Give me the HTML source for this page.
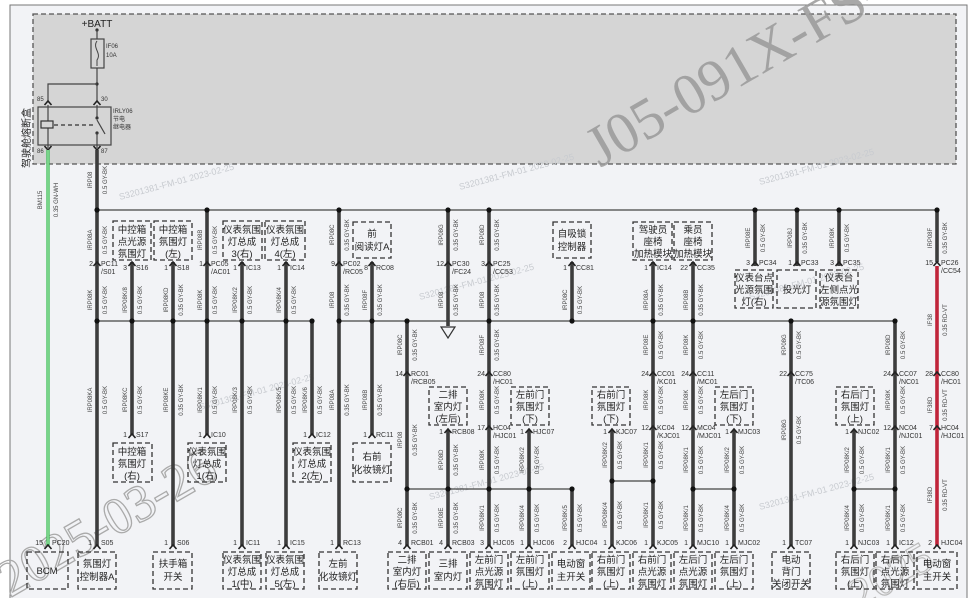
<!DOCTYPE html>
<html><head><meta charset="utf-8"><style>
html,body{margin:0;padding:0;background:#fff}
svg{display:block}
.w{stroke:#3d3d3d;stroke-width:3.6;fill:none}
.r{stroke:#c0243a;stroke-width:3.6;fill:none}
.g{stroke:#2fb84a;stroke-width:3.2;fill:none}
.t{stroke:#444;stroke-width:1.2;fill:none}
.bx{fill:none;stroke:#333;stroke-width:1.3;stroke-dasharray:5 3}
.bt{font-family:"Liberation Sans","Noto Sans CJK SC",sans-serif;font-size:9.5px;fill:#222;text-anchor:middle}
.lb{font-family:"Liberation Sans",sans-serif;font-size:6px;fill:#444;text-anchor:middle}
.pn{font-family:"Liberation Sans",sans-serif;font-size:7px;fill:#333}
.pr{text-anchor:end}
</style></head><body>
<svg width="974" height="598" viewBox="0 0 974 598" xmlns="http://www.w3.org/2000/svg">
<defs>
<g id="pin"><path d="M-3.5 4 L0 0 L3.5 4" stroke="#222" stroke-width="1.6" fill="none"/></g>
</defs>
<rect x="10" y="5" width="957" height="600" fill="#f2f3f6" stroke="#777" stroke-width="1"/>
<rect x="33" y="14" width="923" height="150" fill="#d5d5d5" stroke="#555" stroke-width="1.3" stroke-dasharray="5 3"/>

<!-- watermarks -->
<text x="600" y="168" transform="rotate(-30 600 168)" font-family="Liberation Serif,serif" font-size="58" fill="#9a9a9a" opacity="0.85">J05-091X-FS-01</text>
<text x="10" y="598" transform="rotate(-30 10 598)" font-family="Liberation Serif,serif" font-size="52" fill="none" stroke="#aaa" stroke-width="1.3">2025-03-26</text>
<text x="860" y="610" transform="rotate(-30 860 610)" font-family="Liberation Serif,serif" font-size="44" fill="none" stroke="#bbb" stroke-width="1.2">2025</text>
<g font-family="Liberation Sans,sans-serif" font-size="9" fill="#c8cbd0">
<text x="120" y="200" transform="rotate(-15 120 200)">S3201381-FM-01 2023-02-25</text>
<text x="460" y="190" transform="rotate(-15 460 190)">S3201381-FM-01 2023-02-25</text>
<text x="760" y="185" transform="rotate(-15 760 185)">S3201381-FM-01 2023-02-25</text>
<text x="420" y="300" transform="rotate(-15 420 300)">S3201381-FM-01 2023-02-25</text>
<text x="750" y="300" transform="rotate(-15 750 300)">S3201381-FM-01 2023-02-25</text>
<text x="200" y="410" transform="rotate(-15 200 410)">S3201381-FM-01 2023-02-25</text>
<text x="430" y="500" transform="rotate(-15 430 500)">S3201381-FM-01 2023-02-25</text>
<text x="760" y="510" transform="rotate(-15 760 510)">S3201381-FM-01 2023-02-25</text>
</g>

<!-- fuse box internals -->
<text x="97" y="27" class="bt" style="font-size:10px">+BATT</text>
<circle cx="97" cy="30" r="1.6" fill="#333"/>
<line class="t" x1="97" y1="30" x2="97" y2="39"/>
<rect x="91" y="39" width="13" height="29" fill="none" stroke="#444" stroke-width="1.2"/>
<path d="M97 41 C92 48,102 53,97 60 L97 66" stroke="#444" stroke-width="1" fill="none"/>
<text x="106" y="48" class="pn" style="font-size:6px">IF06</text>
<text x="106" y="57" class="pn" style="font-size:6px">10A</text>
<line class="t" x1="97" y1="68" x2="97" y2="102"/>
<circle cx="97" cy="84" r="1.6" fill="#333"/>
<polyline class="t" points="97,84 48,84 48,102"/>
<text x="37" y="101" class="pn" style="font-size:6px">85</text>
<text x="101" y="101" class="pn" style="font-size:6px">30</text>
<use href="#pin" x="48" y="101"/><use href="#pin" x="97" y="101"/>
<rect x="38" y="107" width="73" height="38" fill="none" stroke="#444" stroke-width="1.2"/>
<line class="t" x1="48" y1="105" x2="48" y2="148"/>
<rect x="41" y="121" width="12" height="7" fill="#d5d5d5" stroke="#333" stroke-width="1.2"/>
<line x1="54" y1="125" x2="93" y2="125" stroke="#333" stroke-width="1.2" stroke-dasharray="4 3"/>
<line class="t" x1="97" y1="105" x2="97" y2="118"/>
<circle cx="97" cy="118" r="1.6" fill="#333"/><circle cx="97" cy="133" r="1.6" fill="#333"/>
<line class="t" x1="97" y1="120" x2="105" y2="134"/>
<line class="t" x1="97" y1="133" x2="97" y2="148"/>
<text x="113" y="113" class="pn" style="font-size:6px">IRLY06</text>
<text x="113" y="121" class="pn" style="font-size:6px">节电</text>
<text x="113" y="129" class="pn" style="font-size:6px">继电器</text>
<text x="37" y="153" class="pn" style="font-size:6px">86</text>
<text x="101" y="153" class="pn" style="font-size:6px">87</text>
<path d="M44.5 146 L48 150 L51.5 146 M93.5 146 L97 150 L100.5 146" stroke="#222" stroke-width="1.6" fill="none"/>
<text x="30" y="138" transform="rotate(-90 30 138)" class="bt" style="font-size:10px">驾驶舱熔断盒</text>

<!-- green wire -->
<line class="g" x1="48" y1="150" x2="48" y2="546"/>
<line x1="48" y1="150" x2="48" y2="546" stroke="#e8ffe8" stroke-width="0.8"/>
<text x="42" y="200" transform="rotate(-90 42 200)" class="lb">BM115</text>
<text x="58" y="200" transform="rotate(-90 58 200)" class="lb">0.35 GN-WH</text>

<!-- buses -->
<line class="t" x1="97" y1="210" x2="937" y2="210"/>
<line class="t" x1="97" y1="321" x2="312" y2="321"/>
<line class="t" x1="339" y1="321" x2="895" y2="321"/>
<line class="t" x1="407" y1="489" x2="572" y2="489"/>
<line class="t" x1="612" y1="481" x2="653" y2="481"/>
<line class="t" x1="693" y1="489" x2="734" y2="489"/>
<line class="t" x1="854" y1="489" x2="895" y2="489"/>

<!-- wires -->
<g class="w">
<line x1="97" y1="150" x2="97" y2="546"/>
<line x1="132" y1="262" x2="132" y2="435"/>
<line x1="173" y1="262" x2="173" y2="546"/>
<line x1="207" y1="210" x2="207" y2="435"/>
<line x1="242" y1="262" x2="242" y2="546"/>
<line x1="286" y1="262" x2="286" y2="546"/>
<line x1="312" y1="321" x2="312" y2="435"/>
<line x1="339" y1="210" x2="339" y2="546"/>
<line x1="372" y1="262" x2="372" y2="435"/>
<line x1="407" y1="321" x2="407" y2="546"/>
<line x1="448" y1="210" x2="448" y2="326"/>
<line x1="448" y1="430" x2="448" y2="546"/>
<line x1="489" y1="210" x2="489" y2="546"/>
<line x1="529" y1="430" x2="529" y2="546"/>
<line x1="572" y1="262" x2="572" y2="321"/>
<line x1="572" y1="489" x2="572" y2="546"/>
<line x1="612" y1="430" x2="612" y2="546"/>
<line x1="653" y1="262" x2="653" y2="546"/>
<line x1="693" y1="262" x2="693" y2="546"/>
<line x1="734" y1="430" x2="734" y2="546"/>
<line x1="755" y1="210" x2="755" y2="266"/>
<line x1="797" y1="210" x2="797" y2="266"/>
<line x1="839" y1="210" x2="839" y2="266"/>
<line x1="791" y1="321" x2="791" y2="546"/>
<line x1="854" y1="430" x2="854" y2="546"/>
<line x1="895" y1="321" x2="895" y2="546"/>
<line x1="937" y1="210" x2="937" y2="262"/>
</g>
<line class="r" x1="937" y1="266" x2="937" y2="546"/>
<path d="M441 327 L455 327 L448 338 Z" fill="#f2f3f6" stroke="#333" stroke-width="1.2"/>

<!-- dots -->
<g fill="#111">
<circle cx="97" cy="210" r="2.6"/><circle cx="207" cy="210" r="2.6"/><circle cx="339" cy="210" r="2.6"/><circle cx="448" cy="210" r="2.6"/><circle cx="489" cy="210" r="2.6"/><circle cx="755" cy="210" r="2.6"/><circle cx="797" cy="210" r="2.6"/><circle cx="839" cy="210" r="2.6"/><circle cx="937" cy="210" r="2.6"/>
<circle cx="97" cy="321" r="2.6"/><circle cx="132" cy="321" r="2.6"/><circle cx="173" cy="321" r="2.6"/><circle cx="207" cy="321" r="2.6"/><circle cx="242" cy="321" r="2.6"/><circle cx="286" cy="321" r="2.6"/><circle cx="312" cy="321" r="2.6"/>
<circle cx="339" cy="321" r="2.6"/><circle cx="372" cy="321" r="2.6"/><circle cx="407" cy="321" r="2.6"/><circle cx="489" cy="321" r="2.6"/><circle cx="572" cy="321" r="2.6"/><circle cx="653" cy="321" r="2.6"/><circle cx="693" cy="321" r="2.6"/><circle cx="791" cy="321" r="2.6"/><circle cx="895" cy="321" r="2.6"/>
<circle cx="407" cy="489" r="2.6"/><circle cx="448" cy="489" r="2.6"/><circle cx="489" cy="489" r="2.6"/><circle cx="529" cy="489" r="2.6"/><circle cx="572" cy="489" r="2.6"/>
<circle cx="612" cy="481" r="2.6"/><circle cx="653" cy="481" r="2.6"/>
<circle cx="693" cy="489" r="2.6"/><circle cx="734" cy="489" r="2.6"/><circle cx="854" cy="489" r="2.6"/><circle cx="895" cy="489" r="2.6"/>
</g>

<!-- pins -->
<g>
<use href="#pin" x="97" y="262"/><use href="#pin" x="132" y="262"/><use href="#pin" x="173" y="262"/><use href="#pin" x="207" y="262"/><use href="#pin" x="242" y="262"/><use href="#pin" x="286" y="262"/><use href="#pin" x="339" y="262"/><use href="#pin" x="372" y="262"/><use href="#pin" x="448" y="262"/><use href="#pin" x="489" y="262"/><use href="#pin" x="572" y="262"/><use href="#pin" x="653" y="262"/><use href="#pin" x="693" y="262"/><use href="#pin" x="755" y="262"/><use href="#pin" x="797" y="262"/><use href="#pin" x="839" y="262"/><use href="#pin" x="937" y="262"/>
<use href="#pin" x="407" y="372"/><use href="#pin" x="489" y="372"/><use href="#pin" x="653" y="372"/><use href="#pin" x="693" y="372"/><use href="#pin" x="791" y="372"/><use href="#pin" x="895" y="372"/><use href="#pin" x="937" y="372"/>
<use href="#pin" x="489" y="426"/><use href="#pin" x="653" y="426"/><use href="#pin" x="693" y="426"/><use href="#pin" x="895" y="426"/><use href="#pin" x="937" y="426"/>
<use href="#pin" x="132" y="434"/><use href="#pin" x="207" y="434"/><use href="#pin" x="312" y="434"/><use href="#pin" x="372" y="434"/>
<use href="#pin" x="448" y="429"/><use href="#pin" x="529" y="429"/><use href="#pin" x="612" y="429"/><use href="#pin" x="734" y="429"/><use href="#pin" x="854" y="429"/>
<use href="#pin" x="48" y="545"/><use href="#pin" x="97" y="545"/><use href="#pin" x="173" y="545"/><use href="#pin" x="242" y="545"/><use href="#pin" x="286" y="545"/><use href="#pin" x="339" y="545"/><use href="#pin" x="407" y="545"/><use href="#pin" x="448" y="545"/><use href="#pin" x="489" y="545"/><use href="#pin" x="529" y="545"/><use href="#pin" x="572" y="545"/><use href="#pin" x="612" y="545"/><use href="#pin" x="653" y="545"/><use href="#pin" x="693" y="545"/><use href="#pin" x="734" y="545"/><use href="#pin" x="791" y="545"/><use href="#pin" x="854" y="545"/><use href="#pin" x="895" y="545"/><use href="#pin" x="937" y="545"/>
</g>

<!-- pin labels -->
<g class="pn">
<text x="101" y="266">PC11</text><text x="101" y="274">/S01</text><text x="93" y="266" class="pr">2</text>
<text x="136" y="270">S16</text><text x="127" y="270" class="pr">3</text>
<text x="177" y="270">S18</text><text x="168" y="270" class="pr">1</text>
<text x="211" y="266">PC05</text><text x="211" y="274">/AC01</text><text x="203" y="266" class="pr">1</text>
<text x="246" y="270">IC13</text><text x="237" y="270" class="pr">1</text>
<text x="290" y="270">IC14</text><text x="281" y="270" class="pr">1</text>
<text x="343" y="266">PC02</text><text x="343" y="274">/RC05</text><text x="335" y="266" class="pr">9</text>
<text x="376" y="270">RC08</text><text x="368" y="270" class="pr">8</text>
<text x="452" y="266">PC30</text><text x="452" y="274">/FC24</text><text x="444" y="266" class="pr">12</text>
<text x="493" y="266">PC25</text><text x="493" y="274">/CC53</text><text x="485" y="266" class="pr">3</text>
<text x="576" y="270">CC81</text><text x="567" y="270" class="pr">1</text>
<text x="657" y="270">IC14</text><text x="648" y="270" class="pr">1</text>
<text x="697" y="270">CC35</text><text x="688" y="270" class="pr">22</text>
<text x="759" y="265">PC34</text><text x="750" y="265" class="pr">3</text>
<text x="801" y="265">PC33</text><text x="792" y="265" class="pr">1</text>
<text x="843" y="265">PC35</text><text x="834" y="265" class="pr">3</text>
<text x="941" y="265">PC26</text><text x="941" y="273">/CC54</text><text x="933" y="265" class="pr">15</text>
<text x="411" y="376">RC01</text><text x="411" y="384">/RCB05</text><text x="403" y="376" class="pr">14</text>
<text x="493" y="376">CC80</text><text x="493" y="384">/HC01</text><text x="485" y="376" class="pr">24</text>
<text x="657" y="376">CC01</text><text x="657" y="384">/KC01</text><text x="649" y="376" class="pr">24</text>
<text x="697" y="376">CC11</text><text x="697" y="384">/MC01</text><text x="689" y="376" class="pr">24</text>
<text x="795" y="376">CC75</text><text x="795" y="384">/TC06</text><text x="787" y="376" class="pr">22</text>
<text x="899" y="376">CC07</text><text x="899" y="384">/NC01</text><text x="891" y="376" class="pr">24</text>
<text x="941" y="376">CC80</text><text x="941" y="384">/HC01</text><text x="933" y="376" class="pr">28</text>
<text x="493" y="430">HC04</text><text x="493" y="438">/HJC01</text><text x="485" y="430" class="pr">17</text>
<text x="657" y="430">KC04</text><text x="657" y="438">/KJC01</text><text x="649" y="430" class="pr">12</text>
<text x="697" y="430">MC04</text><text x="697" y="438">/MJC01</text><text x="689" y="430" class="pr">12</text>
<text x="899" y="430">NC04</text><text x="899" y="438">/NJC01</text><text x="891" y="430" class="pr">12</text>
<text x="941" y="430">HC04</text><text x="941" y="438">/HJC01</text><text x="933" y="430" class="pr">7</text>
<text x="136" y="437">S17</text><text x="127" y="437" class="pr">1</text>
<text x="211" y="437">IC10</text><text x="202" y="437" class="pr">1</text>
<text x="316" y="437">IC12</text><text x="307" y="437" class="pr">1</text>
<text x="376" y="437">RC11</text><text x="367" y="437" class="pr">1</text>
<text x="452" y="434">RCB08</text><text x="443" y="434" class="pr">1</text>
<text x="533" y="434">HJC07</text><text x="524" y="434" class="pr">1</text>
<text x="616" y="434">KJC07</text><text x="607" y="434" class="pr">1</text>
<text x="738" y="434">MJC03</text><text x="729" y="434" class="pr">1</text>
<text x="858" y="434">NJC02</text><text x="849" y="434" class="pr">1</text>
<text x="52" y="545">PC20</text><text x="43" y="545" class="pr">15</text>
<text x="101" y="545">S05</text><text x="92" y="545" class="pr">1</text>
<text x="177" y="545">S06</text><text x="168" y="545" class="pr">1</text>
<text x="246" y="545">IC11</text><text x="237" y="545" class="pr">1</text>
<text x="290" y="545">IC15</text><text x="281" y="545" class="pr">1</text>
<text x="343" y="545">RC13</text><text x="334" y="545" class="pr">1</text>
<text x="411" y="545">RCB01</text><text x="402" y="545" class="pr">4</text>
<text x="452" y="545">RCB03</text><text x="443" y="545" class="pr">4</text>
<text x="493" y="545">HJC05</text><text x="484" y="545" class="pr">3</text>
<text x="533" y="545">HJC06</text><text x="524" y="545" class="pr">1</text>
<text x="576" y="545">HJC04</text><text x="567" y="545" class="pr">2</text>
<text x="616" y="545">KJC06</text><text x="607" y="545" class="pr">1</text>
<text x="657" y="545">KJC05</text><text x="648" y="545" class="pr">1</text>
<text x="697" y="545">MJC10</text><text x="688" y="545" class="pr">1</text>
<text x="738" y="545">MJC02</text><text x="729" y="545" class="pr">1</text>
<text x="795" y="545">TC07</text><text x="786" y="545" class="pr">1</text>
<text x="858" y="545">NJC03</text><text x="849" y="545" class="pr">1</text>
<text x="899" y="545">IC12</text><text x="890" y="545" class="pr">1</text>
<text x="941" y="545">HJC04</text><text x="932" y="545" class="pr">2</text>
</g>

<!-- wire labels -->
<g class="lb">
<text transform="translate(92,180) rotate(-90)">IRP08</text><text transform="translate(107,180) rotate(-90)">0.5 GY-BK</text>
<text transform="translate(92,240) rotate(-90)">IRP08A</text><text transform="translate(107,240) rotate(-90)">0.5 GY-BK</text>
<text transform="translate(202,240) rotate(-90)">IRP08B</text><text transform="translate(217,240) rotate(-90)">0.5 GY-BK</text>
<text transform="translate(334,235) rotate(-90)">IRP08C</text><text transform="translate(349,235) rotate(-90)">0.35 GY-BK</text>
<text transform="translate(443,235) rotate(-90)">IRP08G</text><text transform="translate(458,235) rotate(-90)">0.35 GY-BK</text>
<text transform="translate(484,235) rotate(-90)">IRP08D</text><text transform="translate(499,235) rotate(-90)">0.35 GY-BK</text>
<text transform="translate(750,238) rotate(-90)">IRP08E</text><text transform="translate(765,238) rotate(-90)">0.5 GY-BK</text>
<text transform="translate(792,238) rotate(-90)">IRP08J</text><text transform="translate(807,238) rotate(-90)">0.35 GY-BK</text>
<text transform="translate(834,238) rotate(-90)">IRP08K</text><text transform="translate(849,238) rotate(-90)">0.5 GY-BK</text>
<text transform="translate(932,238) rotate(-90)">IRP08F</text><text transform="translate(947,238) rotate(-90)">0.35 GY-BK</text>
<text transform="translate(92,300) rotate(-90)">IRP08K</text><text transform="translate(107,300) rotate(-90)">0.5 GY-BK</text>
<text transform="translate(127,300) rotate(-90)">IRP08K/8</text><text transform="translate(142,300) rotate(-90)">0.5 GY-BK</text>
<text transform="translate(168,300) rotate(-90)">IRP08KD</text><text transform="translate(183,300) rotate(-90)">0.35 GY-BK</text>
<text transform="translate(202,300) rotate(-90)">IRP08K</text><text transform="translate(217,300) rotate(-90)">0.5 GY-BK</text>
<text transform="translate(237,300) rotate(-90)">IRP08K/2</text><text transform="translate(252,300) rotate(-90)">0.5 GY-BK</text>
<text transform="translate(281,300) rotate(-90)">IRP08K/4</text><text transform="translate(296,300) rotate(-90)">0.5 GY-BK</text>
<text transform="translate(334,300) rotate(-90)">IRP08</text><text transform="translate(349,300) rotate(-90)">0.35 GY-BK</text>
<text transform="translate(367,300) rotate(-90)">IRP08F</text><text transform="translate(382,300) rotate(-90)">0.35 GY-BK</text>
<text transform="translate(443,300) rotate(-90)">IRP08</text><text transform="translate(458,300) rotate(-90)">0.35 GY-BK</text>
<text transform="translate(484,300) rotate(-90)">IRP08</text><text transform="translate(499,300) rotate(-90)">0.35 GY-BK</text>
<text transform="translate(567,300) rotate(-90)">IRP08C</text><text transform="translate(582,300) rotate(-90)">0.5 GY-BK</text>
<text transform="translate(648,300) rotate(-90)">IRP08A</text><text transform="translate(663,300) rotate(-90)">0.35 GY-BK</text>
<text transform="translate(688,300) rotate(-90)">IRP08B</text><text transform="translate(703,300) rotate(-90)">0.35 GY-BK</text>
<text transform="translate(932,320) rotate(-90)">IF38</text><text transform="translate(947,320) rotate(-90)">0.35 RD-VT</text>
<text transform="translate(92,400) rotate(-90)">IRP08KA</text><text transform="translate(107,400) rotate(-90)">0.5 GY-BK</text>
<text transform="translate(127,400) rotate(-90)">IRP08KC</text><text transform="translate(142,400) rotate(-90)">0.5 GY-BK</text>
<text transform="translate(168,400) rotate(-90)">IRP08KE</text><text transform="translate(183,400) rotate(-90)">0.35 GY-BK</text>
<text transform="translate(202,400) rotate(-90)">IRP08K/1</text><text transform="translate(217,400) rotate(-90)">0.5 GY-BK</text>
<text transform="translate(237,400) rotate(-90)">IRP08K/3</text><text transform="translate(252,400) rotate(-90)">0.5 GY-BK</text>
<text transform="translate(281,400) rotate(-90)">IRP08K/5</text><text transform="translate(296,400) rotate(-90)">0.5 GY-BK</text>
<text transform="translate(307,400) rotate(-90)">IRP08K/6</text><text transform="translate(322,400) rotate(-90)">0.5 GY-BK</text>
<text transform="translate(334,400) rotate(-90)">IRP08A</text><text transform="translate(349,400) rotate(-90)">0.35 GY-BK</text>
<text transform="translate(367,400) rotate(-90)">IRP08B</text><text transform="translate(382,400) rotate(-90)">0.35 GY-BK</text>
<text transform="translate(402,345) rotate(-90)">IRP08C</text><text transform="translate(417,345) rotate(-90)">0.35 GY-BK</text>
<text transform="translate(402,440) rotate(-90)">IRP08</text><text transform="translate(417,440) rotate(-90)">0.35 GY-BK</text>
<text transform="translate(402,518) rotate(-90)">IRP08C</text><text transform="translate(417,518) rotate(-90)">0.35 GY-BK</text>
<text transform="translate(443,460) rotate(-90)">IRP08D</text><text transform="translate(458,460) rotate(-90)">0.35 GY-BK</text>
<text transform="translate(443,518) rotate(-90)">IRP08E</text><text transform="translate(458,518) rotate(-90)">0.35 GY-BK</text>
<text transform="translate(484,345) rotate(-90)">IRP08F</text><text transform="translate(499,345) rotate(-90)">0.35 GY-BK</text>
<text transform="translate(484,400) rotate(-90)">IRP08K</text><text transform="translate(499,400) rotate(-90)">0.5 GY-BK</text>
<text transform="translate(484,460) rotate(-90)">IRP08K</text><text transform="translate(499,460) rotate(-90)">0.5 GY-BK</text>
<text transform="translate(484,518) rotate(-90)">IRP08K/1</text><text transform="translate(499,518) rotate(-90)">0.5 GY-BK</text>
<text transform="translate(524,460) rotate(-90)">IRP08K/2</text><text transform="translate(539,460) rotate(-90)">0.5 GY-BK</text>
<text transform="translate(524,518) rotate(-90)">IRP08K/4</text><text transform="translate(539,518) rotate(-90)">0.5 GY-BK</text>
<text transform="translate(567,518) rotate(-90)">IRP08K/5</text><text transform="translate(582,518) rotate(-90)">0.5 GY-BK</text>
<text transform="translate(607,455) rotate(-90)">IRP08K/2</text><text transform="translate(622,455) rotate(-90)">0.5 GY-BK</text>
<text transform="translate(607,515) rotate(-90)">IRP08K/4</text><text transform="translate(622,515) rotate(-90)">0.5 GY-BK</text>
<text transform="translate(648,345) rotate(-90)">IRP08E</text><text transform="translate(663,345) rotate(-90)">0.5 GY-BK</text>
<text transform="translate(648,400) rotate(-90)">IRP08K</text><text transform="translate(663,400) rotate(-90)">0.5 GY-BK</text>
<text transform="translate(648,455) rotate(-90)">IRP08K/1</text><text transform="translate(663,455) rotate(-90)">0.5 GY-BK</text>
<text transform="translate(648,515) rotate(-90)">IRP08K/1</text><text transform="translate(663,515) rotate(-90)">0.5 GY-BK</text>
<text transform="translate(688,345) rotate(-90)">IRP08K</text><text transform="translate(703,345) rotate(-90)">0.5 GY-BK</text>
<text transform="translate(688,400) rotate(-90)">IRP08K</text><text transform="translate(703,400) rotate(-90)">0.5 GY-BK</text>
<text transform="translate(688,460) rotate(-90)">IRP08K/1</text><text transform="translate(703,460) rotate(-90)">0.5 GY-BK</text>
<text transform="translate(688,518) rotate(-90)">IRP08K/1</text><text transform="translate(703,518) rotate(-90)">0.5 GY-BK</text>
<text transform="translate(729,460) rotate(-90)">IRP08K/2</text><text transform="translate(744,460) rotate(-90)">0.5 GY-BK</text>
<text transform="translate(729,518) rotate(-90)">IRP08K/4</text><text transform="translate(744,518) rotate(-90)">0.5 GY-BK</text>
<text transform="translate(786,345) rotate(-90)">IRP08G</text><text transform="translate(801,345) rotate(-90)">0.5 GY-BK</text>
<text transform="translate(786,430) rotate(-90)">IRP08G</text><text transform="translate(801,430) rotate(-90)">0.5 GY-BK</text>
<text transform="translate(849,460) rotate(-90)">IRP08K/2</text><text transform="translate(864,460) rotate(-90)">0.5 GY-BK</text>
<text transform="translate(849,518) rotate(-90)">IRP08K/4</text><text transform="translate(864,518) rotate(-90)">0.5 GY-BK</text>
<text transform="translate(890,345) rotate(-90)">IRP08D</text><text transform="translate(905,345) rotate(-90)">0.5 GY-BK</text>
<text transform="translate(890,400) rotate(-90)">IRP08K</text><text transform="translate(905,400) rotate(-90)">0.5 GY-BK</text>
<text transform="translate(890,460) rotate(-90)">IRP08K/1</text><text transform="translate(905,460) rotate(-90)">0.5 GY-BK</text>
<text transform="translate(890,518) rotate(-90)">IRP08K/1</text><text transform="translate(905,518) rotate(-90)">0.5 GY-BK</text>
<text transform="translate(932,405) rotate(-90)">IF38D</text><text transform="translate(947,405) rotate(-90)">0.35 RD-VT</text>
<text transform="translate(932,495) rotate(-90)">IF38D</text><text transform="translate(947,495) rotate(-90)">0.35 RD-VT</text>
</g>

<!-- boxes -->
<g>
<rect class="bx" x="113" y="221" width="38" height="39"/><text class="bt" x="132" y="233">中控箱</text><text class="bt" x="132" y="245">点光源</text><text class="bt" x="132" y="257">氛围灯</text>
<rect class="bx" x="154" y="221" width="38" height="39"/><text class="bt" x="173" y="233">中控箱</text><text class="bt" x="173" y="245">氛围灯</text><text class="bt" x="173" y="257">(左)</text>
<rect class="bx" x="223" y="221" width="39" height="39"/><text class="bt" x="242" y="233">仪表氛围</text><text class="bt" x="242" y="245">灯总成</text><text class="bt" x="242" y="257">3(右)</text>
<rect class="bx" x="265" y="221" width="40" height="39"/><text class="bt" x="285" y="233">仪表氛围</text><text class="bt" x="285" y="245">灯总成</text><text class="bt" x="285" y="257">4(左)</text>
<rect class="bx" x="353" y="222" width="38" height="36"/><text class="bt" x="372" y="237">前</text><text class="bt" x="372" y="250">阅读灯A</text>
<rect class="bx" x="553" y="222" width="38" height="36"/><text class="bt" x="572" y="237">自吸锁</text><text class="bt" x="572" y="250">控制器</text>
<rect class="bx" x="633" y="222" width="39" height="38"/><text class="bt" x="653" y="233">驾驶员</text><text class="bt" x="653" y="245">座椅</text><text class="bt" x="653" y="257">加热模块</text>
<rect class="bx" x="674" y="222" width="38" height="38"/><text class="bt" x="693" y="233">乘员</text><text class="bt" x="693" y="245">座椅</text><text class="bt" x="693" y="257">加热模块</text>
<rect class="bx" x="735" y="270" width="38" height="38"/><text class="bt" x="754" y="281">仪表台点</text><text class="bt" x="754" y="293">光源氛围</text><text class="bt" x="754" y="305">灯(右)</text>
<rect class="bx" x="777" y="270" width="39" height="38"/><text class="bt" x="797" y="293">投光灯</text>
<rect class="bx" x="820" y="270" width="38" height="38"/><text class="bt" x="839" y="281">仪表台</text><text class="bt" x="839" y="293">左侧点光</text><text class="bt" x="839" y="305">源氛围灯</text>

<rect class="bx" x="113" y="443" width="39" height="39"/><text class="bt" x="132" y="455">中控箱</text><text class="bt" x="132" y="467">氛围灯</text><text class="bt" x="132" y="479">(右)</text>
<rect class="bx" x="188" y="443" width="38" height="39"/><text class="bt" x="207" y="455">仪表氛围</text><text class="bt" x="207" y="467">灯总成</text><text class="bt" x="207" y="479">1(右)</text>
<rect class="bx" x="293" y="443" width="38" height="39"/><text class="bt" x="312" y="455">仪表氛围</text><text class="bt" x="312" y="467">灯总成</text><text class="bt" x="312" y="479">2(左)</text>
<rect class="bx" x="353" y="443" width="38" height="39"/><text class="bt" x="372" y="460">右前</text><text class="bt" x="372" y="473">化妆镜灯</text>
<rect class="bx" x="429" y="387" width="38" height="38"/><text class="bt" x="448" y="398">二排</text><text class="bt" x="448" y="410">室内灯</text><text class="bt" x="448" y="422">(左后)</text>
<rect class="bx" x="511" y="387" width="38" height="38"/><text class="bt" x="530" y="398">左前门</text><text class="bt" x="530" y="410">氛围灯</text><text class="bt" x="530" y="422">(下)</text>
<rect class="bx" x="592" y="387" width="38" height="38"/><text class="bt" x="611" y="398">右前门</text><text class="bt" x="611" y="410">氛围灯</text><text class="bt" x="611" y="422">(下)</text>
<rect class="bx" x="715" y="387" width="38" height="38"/><text class="bt" x="734" y="398">左后门</text><text class="bt" x="734" y="410">氛围灯</text><text class="bt" x="734" y="422">(下)</text>
<rect class="bx" x="836" y="387" width="38" height="38"/><text class="bt" x="855" y="398">右后门</text><text class="bt" x="855" y="410">氛围灯</text><text class="bt" x="855" y="422">(上)</text>

<rect class="bx" x="27" y="552" width="41" height="37"/><text class="bt" x="47" y="574">BCM</text>
<rect class="bx" x="78" y="552" width="38" height="37"/><text class="bt" x="97" y="567">氛围灯</text><text class="bt" x="97" y="580">控制器A</text>
<rect class="bx" x="153" y="552" width="39" height="37"/><text class="bt" x="173" y="567">扶手箱</text><text class="bt" x="173" y="580">开关</text>
<rect class="bx" x="223" y="552" width="38" height="37"/><text class="bt" x="242" y="563">仪表氛围</text><text class="bt" x="242" y="575">灯总成</text><text class="bt" x="242" y="587">1(中)</text>
<rect class="bx" x="266" y="552" width="38" height="37"/><text class="bt" x="285" y="563">仪表氛围</text><text class="bt" x="285" y="575">灯总成</text><text class="bt" x="285" y="587">5(左)</text>
<rect class="bx" x="319" y="552" width="38" height="37"/><text class="bt" x="338" y="567">左前</text><text class="bt" x="338" y="580">化妆镜灯</text>
<rect class="bx" x="388" y="552" width="38" height="37"/><text class="bt" x="407" y="563">二排</text><text class="bt" x="407" y="575">室内灯</text><text class="bt" x="407" y="587">(右后)</text>
<rect class="bx" x="429" y="552" width="38" height="37"/><text class="bt" x="448" y="567">三排</text><text class="bt" x="448" y="580">室内灯</text>
<rect class="bx" x="470" y="552" width="38" height="37"/><text class="bt" x="489" y="563">左前门</text><text class="bt" x="489" y="575">点光源</text><text class="bt" x="489" y="587">氛围灯</text>
<rect class="bx" x="511" y="552" width="38" height="37"/><text class="bt" x="530" y="563">左前门</text><text class="bt" x="530" y="575">氛围灯</text><text class="bt" x="530" y="587">(上)</text>
<rect class="bx" x="552" y="552" width="38" height="37"/><text class="bt" x="571" y="567">电动窗</text><text class="bt" x="571" y="580">主开关</text>
<rect class="bx" x="592" y="552" width="38" height="37"/><text class="bt" x="611" y="563">右前门</text><text class="bt" x="611" y="575">氛围灯</text><text class="bt" x="611" y="587">(上)</text>
<rect class="bx" x="633" y="552" width="38" height="37"/><text class="bt" x="652" y="563">右前门</text><text class="bt" x="652" y="575">点光源</text><text class="bt" x="652" y="587">氛围灯</text>
<rect class="bx" x="674" y="552" width="38" height="37"/><text class="bt" x="693" y="563">左后门</text><text class="bt" x="693" y="575">点光源</text><text class="bt" x="693" y="587">氛围灯</text>
<rect class="bx" x="715" y="552" width="38" height="37"/><text class="bt" x="734" y="563">左后门</text><text class="bt" x="734" y="575">氛围灯</text><text class="bt" x="734" y="587">(上)</text>
<rect class="bx" x="772" y="552" width="38" height="37"/><text class="bt" x="791" y="563">电动</text><text class="bt" x="791" y="575">背门</text><text class="bt" x="791" y="587">关闭开关</text>
<rect class="bx" x="836" y="552" width="38" height="37"/><text class="bt" x="855" y="563">右后门</text><text class="bt" x="855" y="575">氛围灯</text><text class="bt" x="855" y="587">(上)</text>
<rect class="bx" x="876" y="552" width="38" height="37"/><text class="bt" x="895" y="563">右后门</text><text class="bt" x="895" y="575">点光源</text><text class="bt" x="895" y="587">氛围灯</text>
<rect class="bx" x="917" y="552" width="40" height="37"/><text class="bt" x="937" y="567">电动窗</text><text class="bt" x="937" y="580">主开关</text>
</g>
</svg>
</body></html>
